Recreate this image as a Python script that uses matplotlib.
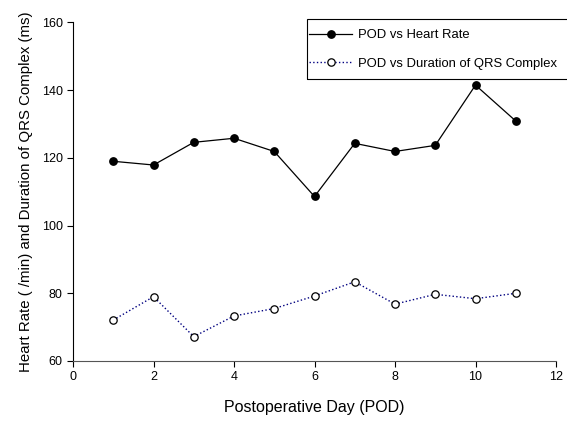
import matplotlib
matplotlib.use("Agg")
import matplotlib.pyplot as plt
from matplotlib.patches import Rectangle

plt.rcParams['font.family'] = ['Liberation Sans', 'DejaVu Sans']

days = [1, 2, 3, 4, 5, 6, 7, 8, 9, 10, 11]
heart_rate = [119.0, 117.9, 124.6, 125.8, 121.9, 108.6, 124.3, 121.9, 123.7, 141.5, 130.9]
qrs_duration = [72.1, 79.0, 67.2, 73.3, 75.5, 79.2, 83.4, 76.8, 79.7, 78.4, 80.0]

W, H = 567, 421
fig = plt.figure(figsize=(W / 100, H / 100), dpi=100)
ax = fig.add_axes([73 / W, 1 - 361 / H, 483 / W, 338.5 / H])

ax.plot(days, heart_rate, color='black', linewidth=0.9, marker='o',
        markersize=5.3, markerfacecolor='black', markeredgecolor='black',
        label='POD vs Heart Rate')
ax.plot(days, qrs_duration, color='#000080', linewidth=1.0, linestyle=':',
        marker='o', markersize=5.3, markerfacecolor='white',
        markeredgecolor='black', markeredgewidth=0.9,
        label='POD vs Duration of QRS Complex')

ax.set_xlim(0, 12)
ax.set_ylim(60, 160)
ax.set_xticks(range(0, 13, 2))
ax.set_yticks(range(60, 161, 20))
ax.spines['top'].set_visible(False)
ax.spines['right'].set_visible(False)
ax.spines['bottom'].set_color('#555555')
ax.tick_params(direction='out', length=4, width=0.8, labelsize=9)

ax.set_xlabel('Postoperative Day (POD)', fontsize=11.5, labelpad=12)
ax.set_ylabel('Heart Rate ( /min) and Duration of QRS Complex (ms)', fontsize=10.8, labelpad=6)

# legend box runs off the right edge of the figure
fig.patches.append(Rectangle((307 / W, 1 - 79 / H), 300 / W, 60 / H,
                             transform=fig.transFigure, fill=False,
                             edgecolor='black', linewidth=0.8))
leg = ax.legend(loc='upper left', bbox_to_anchor=(309 / W, 1 - 29 / H),
                bbox_transform=fig.transFigure, fontsize=9.4, frameon=False,
                handlelength=3.3, borderpad=0, labelspacing=1.25,
                handletextpad=0.45, borderaxespad=0)

fig.savefig('out.png', dpi=100)
